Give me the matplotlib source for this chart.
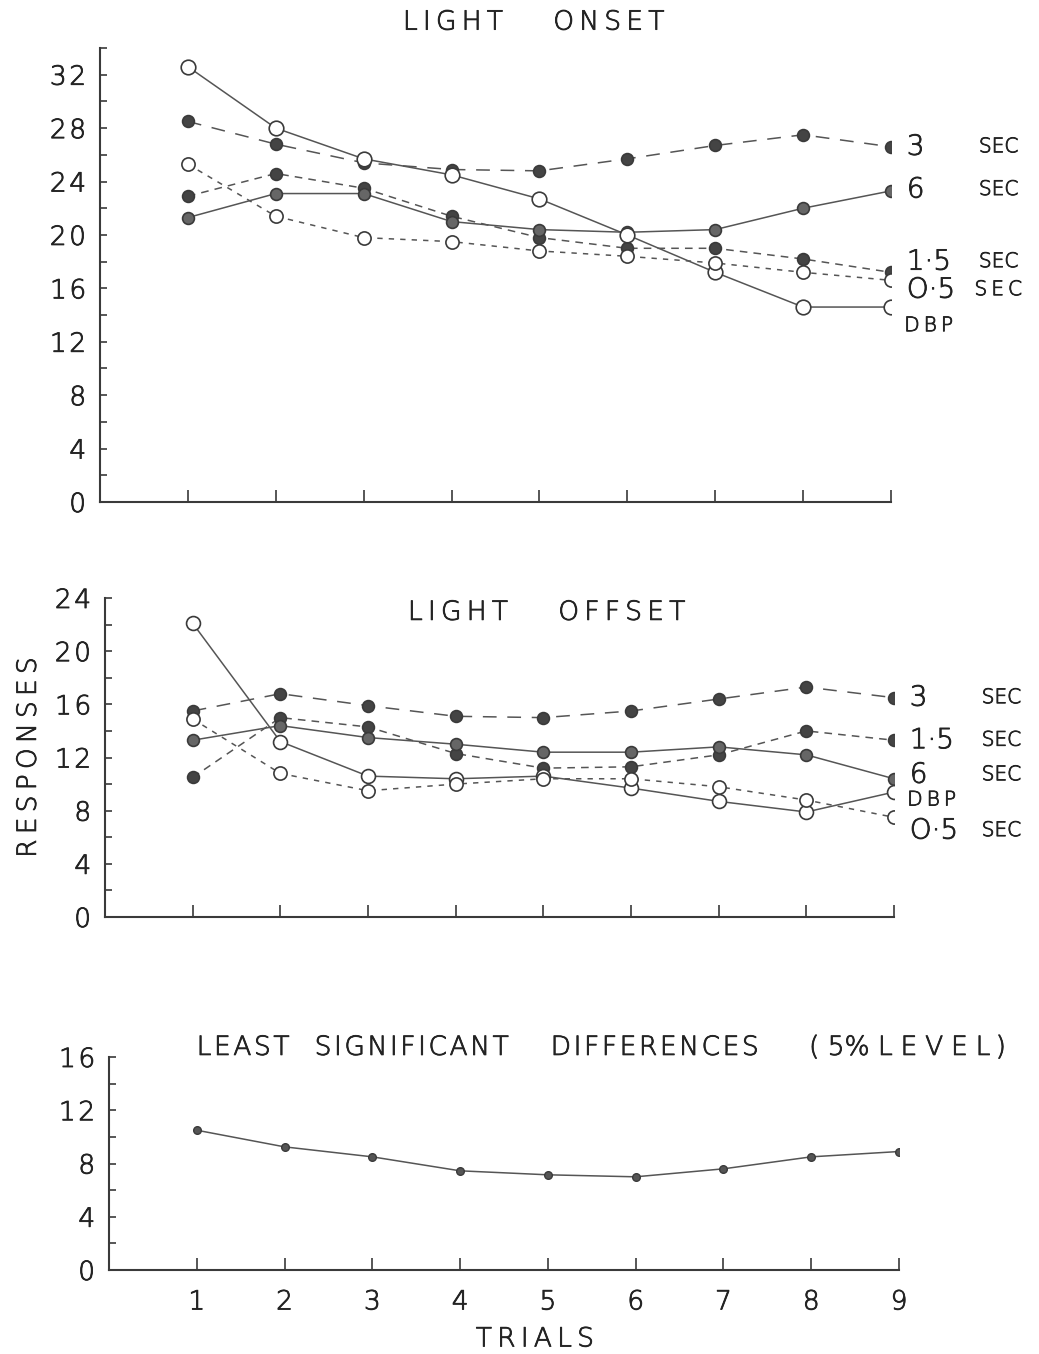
import numpy as np
import matplotlib
matplotlib.use("Agg")
import matplotlib.pyplot as plt
import matplotlib.patheffects as pe
from matplotlib.text import Text
from matplotlib.ticker import MultipleLocator, FuncFormatter

plt.rcParams['font.family'] = ['DejaVu Sans']
plt.rcParams['font.weight'] = 'light'
plt.rcParams['axes.labelweight'] = 'light'

trials = np.arange(1, 10)

# light onset
on_3s = [28.5, 26.8, 25.4, 24.9, 24.8, 25.7, 26.7, 27.5, 26.6]
on_6s = [21.3, 23.1, 23.1, 21.0, 20.4, 20.2, 20.4, 22.0, 23.3]
on_15s = [22.9, 24.6, 23.5, 21.4, 19.8, 19.0, 19.0, 18.2, 17.2]
on_05s = [25.3, 21.4, 19.8, 19.5, 18.8, 18.4, 17.9, 17.2, 16.6]
on_dbp = [32.6, 28.0, 25.7, 24.5, 22.7, 20.0, 17.2, 14.6, 14.6]

# light offset
off_3s = [15.5, 16.8, 15.9, 15.1, 15.0, 15.5, 16.4, 17.3, 16.5]
off_15s = [10.5, 15.0, 14.3, 12.3, 11.2, 11.3, 12.2, 14.0, 13.3]
off_6s = [13.3, 14.4, 13.5, 13.0, 12.4, 12.4, 12.8, 12.2, 10.4]
off_dbp = [22.1, 13.2, 10.6, 10.4, 10.6, 9.7, 8.7, 7.9, 9.4]
off_05s = [14.9, 10.8, 9.5, 10.0, 10.4, 10.4, 9.8, 8.8, 7.5]

# least significant differences
lsd = [10.5, 9.25, 8.5, 7.45, 7.15, 7.0, 7.6, 8.5, 8.9]

W, H = 1039, 1354
fig = plt.figure(figsize=(W / 100, H / 100), dpi=100)

def box(x0, x1, y_top, y_bot):
    return [x0 / W, 1 - y_bot / H, (x1 - x0) / W, (y_bot - y_top) / H]

ax1 = fig.add_axes(box(100, 891, 48, 502))
ax2 = fig.add_axes(box(105, 894, 598, 917))
ax3 = fig.add_axes(box(109, 899, 1057, 1270))

INK = '#3a3a3a'
TXT = '#222222'
LINE = '#555555'
LONG = (0, (9, 7))
MED = (0, (5, 4))
SHORT = (0, (3.5, 4))

THIN = '\u2009'
HAIR = '\u200a'

def spaced(s, sp=THIN):
    # letter-spaced lettering; word gaps kept as they are
    return ' '.join(sp.join(w) if w else '' for w in s.split(' '))

def style(ax, ytop, labels_x=False):
    ax.set_xlim(0, 9)
    ax.set_ylim(0, ytop)
    for s in ['top', 'right']:
        ax.spines[s].set_visible(False)
    for s in ['left', 'bottom']:
        ax.spines[s].set_color(INK)
        ax.spines[s].set_linewidth(1.5)
    ax.yaxis.set_major_locator(MultipleLocator(4))
    ax.yaxis.set_minor_locator(MultipleLocator(2))
    ax.yaxis.set_major_formatter(FuncFormatter(lambda v, p: HAIR.join(f'{v:.0f}')))
    ax.set_xticks(trials)
    ax.tick_params(axis='y', which='both', direction='in', length=5, width=1.2,
                   color=INK, labelsize=19, labelcolor=TXT, pad=10)
    ax.tick_params(axis='x', direction='in', length=9, width=1.2, color=INK,
                   labelsize=19, labelcolor=TXT, pad=14)
    if not labels_x:
        ax.set_xticklabels([])
    ax.set_facecolor('none')

def series(ax, y, ls, face, ms, edge=INK, z=3):
    ax.plot(trials, y, color=LINE, lw=1.1, ls=ls, zorder=2)
    ax.plot(trials, y, ls='none', marker='o', ms=ms, mfc=face, mec=edge,
            mew=1.2, zorder=z)

def tag(ax, y, num, sec='SEC', xs=10.0, size=20):
    ax.text(9.18, y, num, fontsize=size, color=TXT, va='center',
            ha='left', clip_on=False)
    if sec:
        ax.text(xs, y, sec, fontsize=14.5, color=TXT, va='center',
                ha='left', clip_on=False)

# top panel
style(ax1, 34)
series(ax1, on_dbp, '-', 'white', 10.5, z=4)
series(ax1, on_05s, SHORT, 'white', 9.5, z=4)
series(ax1, on_3s, LONG, '#444444', 8.5)
series(ax1, on_15s, MED, '#444444', 8.5)
series(ax1, on_6s, '-', '#666666', 8.5)

ax1.text(0.383, 1.057, spaced('LIGHT      ONSET'), transform=ax1.transAxes,
         ha='left', va='center', fontsize=19, color=TXT)

tag(ax1, 26.6, '3')
tag(ax1, 23.4, '6')
tag(ax1, 18.0, '1·5')
tag(ax1, 15.9, 'O·5', sec=spaced('SEC'), xs=9.95)
ax1.text(9.15, 13.2, spaced('DBP'), fontsize=14.5, color=TXT, va='center',
         ha='left')

# middle panel
style(ax2, 24)
series(ax2, off_dbp, '-', 'white', 10, z=4)
series(ax2, off_05s, SHORT, 'white', 9.5, z=4)
series(ax2, off_3s, LONG, '#444444', 8.5)
series(ax2, off_15s, MED, '#444444', 8.5)
series(ax2, off_6s, '-', '#666666', 8.5)

ax2.text(0.384, 0.955, spaced('LIGHT      OFFSET'), transform=ax2.transAxes,
         ha='left', va='center', fontsize=19, color=TXT)
ax2.set_ylabel(spaced('RESPONSES'), fontsize=19, color=TXT, labelpad=10)

tag(ax2, 16.5, '3')
tag(ax2, 13.3, '1·5')
tag(ax2, 10.7, '6')
ax2.text(9.15, 8.8, spaced('DBP'), fontsize=14.5, color=TXT, va='center',
         ha='left')
tag(ax2, 6.5, 'O·5')

# bottom panel
style(ax3, 16, labels_x=True)
ax3.plot(trials, lsd, color=LINE, lw=1.1, marker='o', ms=5.5, mfc='#555555',
         mec=INK, mew=1.0)
lsd_title = (spaced('LEAST', HAIR) + '   ' + spaced('SIGNIFICANT', HAIR) + '     '
             + spaced('DIFFERENCES', HAIR) + '      ' + '(' + ' ' + '5%'
             + ' ' + spaced('LEVEL', THIN + HAIR) + THIN + ')')
ax3.text(0.111, 1.045, lsd_title, transform=ax3.transAxes, ha='left',
         va='center', fontsize=19, color=TXT)
ax3.set_xlabel(spaced('TRIALS'), fontsize=19, color=TXT)
ax3.xaxis.set_label_coords(0.539, -0.265)

# slightly heavier strokes on the light lettering
for t in fig.findobj(Text):
    t.set_path_effects([pe.withStroke(linewidth=0.6, foreground=TXT)])

fig.savefig('out.png', dpi=100, facecolor='white')
